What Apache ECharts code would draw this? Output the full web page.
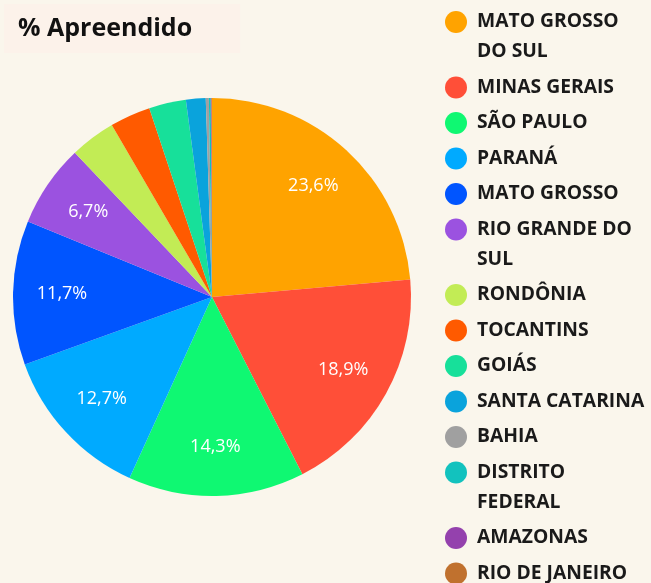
<!DOCTYPE html>
<html>
<head>
<meta charset="utf-8">
<script src="https://cdn.jsdelivr.net/npm/echarts@6/dist/echarts.min.js"></script>
<style>
  html, body { margin: 0; background: #faf6ec; }
  #main { width: 651px; height: 583px; }
</style>
</head>
<body>
<div id="main"></div>
<script>
// estados e % apreendido
const estados = [
  'MATO GROSSO DO SUL', 'MINAS GERAIS', 'SÃO PAULO', 'PARANÁ', 'MATO GROSSO',
  'RIO GRANDE DO SUL', 'RONDÔNIA', 'TOCANTINS', 'GOIÁS', 'SANTA CATARINA',
  'BAHIA', 'DISTRITO FEDERAL', 'AMAZONAS', 'RIO DE JANEIRO'
];
const percentuais = [23.6, 18.9, 14.3, 12.7, 11.7, 6.7, 3.7, 3.3, 3.0, 1.6, 0.25, 0.15, 0.06, 0.04];
const cores = [
  '#ffa300', '#ff4f38', '#0ff872', '#00aaff', '#0055ff',
  '#9b52e0', '#c2ec55', '#ff5a00', '#17e09a', '#0aa3dc',
  '#a0a0a0', '#12c2be', '#9441ad', '#c0712e'
];

const legendFont = '700 19.3px "Open Sans"';
const maxLineWidth = 172;

// quebra o nome da legenda em linhas como na figura
const ctx = document.createElement('canvas').getContext('2d');
ctx.font = legendFont;
function wrap(name) {
  const words = name.split(' ');
  const lines = [];
  let cur = '';
  words.forEach(function (w) {
    const test = cur ? cur + ' ' + w : w;
    if (cur && ctx.measureText(test).width > maxLineWidth) {
      lines.push(cur);
      cur = w;
    } else {
      cur = test;
    }
  });
  lines.push(cur);
  return lines;
}

const rich = {
  pad: { width: 22, lineHeight: 30 },
  gap: { width: 10, lineHeight: 30 },
  t: { fontSize: 19.3, fontWeight: 700, fontFamily: 'Open Sans', color: '#1a1a1a', lineHeight: 30 }
};
cores.forEach(function (c, i) {
  rich['d' + i] = { width: 22, height: 22, borderRadius: 11, backgroundColor: c, lineHeight: 30 };
});

const chart = echarts.init(document.getElementById('main'));

const pieData = estados.map(function (n, i) {
  return { name: n, value: percentuais[i], itemStyle: { color: cores[i] } };
});

const option = {
  backgroundColor: '#faf6ec',
  animation: false,
  title: {
    text: '% Apreendido',
    left: 4,
    top: 4,
    backgroundColor: '#fcf2ea',
    padding: [12, 48, 12, 14],
    textStyle: { fontSize: 25, fontWeight: 700, fontFamily: 'Open Sans', color: '#111', lineHeight: 25 }
  },
  legend: {
    orient: 'vertical',
    left: 440,
    top: 7,
    padding: 0,
    itemWidth: 0,
    itemHeight: 0,
    itemGap: 5.5,
    icon: 'circle',
    data: estados,
    formatter: function (name) {
      const i = estados.indexOf(name);
      return wrap(name).map(function (l, k) {
        return (k === 0 ? '{d' + i + '|}' : '{pad|}') + '{gap|}{t|' + l + '}';
      }).join('\n');
    },
    textStyle: { lineHeight: 30, rich: rich }
  },
  series: [
    {
      type: 'pie',
      center: [212, 297],
      radius: 199,
      startAngle: 90,
      label: { show: false },
      labelLine: { show: false },
      emphasis: { scale: false },
      data: pieData
    },
    {
      // só os rótulos, mais perto da borda
      type: 'pie',
      center: [212, 297],
      radius: [95, 199],
      startAngle: 90,
      silent: true,
      itemStyle: { color: 'rgba(0,0,0,0)' },
      label: {
        show: true,
        position: 'inside',
        color: '#fff',
        fontSize: 18,
        fontFamily: 'Open Sans',
        formatter: function (p) {
          return p.value >= 5 ? p.value.toFixed(1).replace('.', ',') + '%' : '';
        }
      },
      labelLine: { show: false },
      data: estados.map(function (n, i) { return { name: n, value: percentuais[i] }; })
    }
  ]
};

chart.setOption(option);
</script>
</body>
</html>
